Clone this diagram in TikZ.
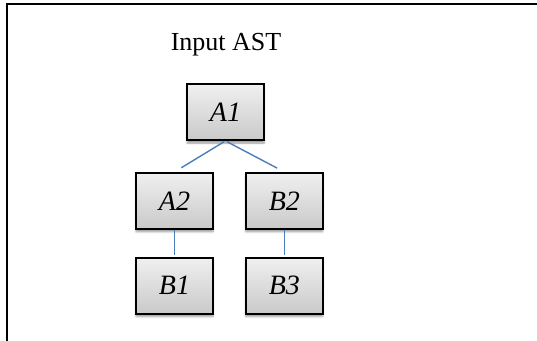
\documentclass[tikz,border=0pt]{standalone}
\usepackage{fontspec}
\setmainfont{Liberation Serif}
\usetikzlibrary{positioning,shadows.blur}
\definecolor{astblue}{RGB}{74,126,187}
\tikzset{
  astbox/.style={draw=black, line width=1.8pt, top color=gray!12, bottom color=gray!42,
    minimum width=77pt, minimum height=56pt, inner sep=0pt,
    font=\fontsize{28}{32}\selectfont\itshape,
    blur shadow={shadow xshift=0pt, shadow yshift=-3pt, shadow blur steps=6, shadow opacity=40}},
  astedge/.style={draw=astblue, line width=1.4pt}
}

\begin{document}
\begin{tikzpicture}[x=1pt, y=-1pt]
  \useasboundingbox (0,0) rectangle (537,340);
  \draw[line width=1.2pt] (7,4) rectangle (560,360);

  \node[anchor=base, font=\fontsize{26}{30}\selectfont] (title) at (226,50) {Input AST};

  \node[astbox] (a1) at (225.5,112) {A1};
  \node[astbox, below=31pt of a1, xshift=-51pt] (a2) {A2};
  \node[astbox, right=31pt of a2] (b2) {B2};
  \node[astbox, below=27pt of a2] (b1) {B1};
  \node[astbox, below=27pt of b2] (b3) {B3};

  % edges of the tree
  \draw[astedge, shorten <=1.5pt, shorten >=8pt] (a1.south) -- (a2.north);
  \draw[astedge, shorten <=1.5pt, shorten >=8pt] (a1.south) -- (b2.north);
  \draw[astedge, shorten >=1.5pt] (a2.south) -- (b1.north);
  \draw[astedge, shorten >=1.5pt] (b2.south) -- (b3.north);
\end{tikzpicture}
\end{document}
